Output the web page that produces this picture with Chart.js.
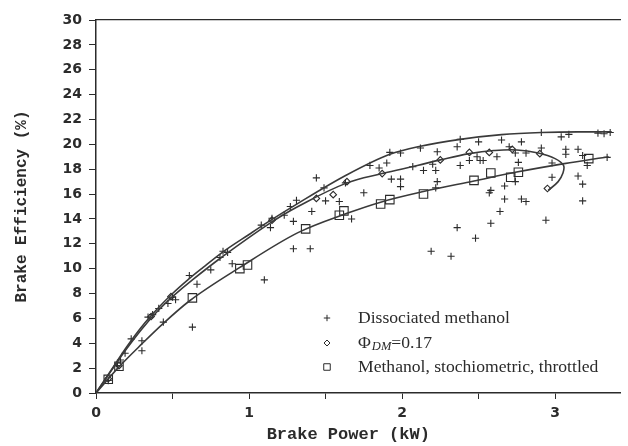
<!DOCTYPE html>
<html>
<head>
<meta charset="utf-8">
<script src="https://cdn.jsdelivr.net/npm/chart.js@4.4.1/dist/chart.umd.min.js"></script>
<style>
  html, body { margin: 0; padding: 0; background: #fff; }
  #wrap { width: 628px; height: 446px; }
</style>
</head>
<body>
<div id="wrap"><canvas id="chart" width="628" height="446"></canvas></div>
<script>
const xTicks = [0, 0.5, 1, 1.5, 2, 2.5, 3];
const yTicks = [0, 2, 4, 6, 8, 10, 12, 14, 16, 18, 20, 22, 24, 26, 28, 30];

const legendLabels = ["Dissociated methanol", "=0.17", "Methanol, stochiometric, throttled"];

// measured points, [power kW, efficiency %]
const dissociated = [
  [0.08, 1.0], [0.14, 2.2], [0.16, 2.65], [0.19, 3.2], [0.23, 4.35], [0.30, 4.2], [0.30, 3.4],
  [0.34, 6.1], [0.37, 6.3], [0.41, 6.8], [0.44, 5.7], [0.47, 7.2], [0.50, 7.7], [0.52, 7.5],
  [0.61, 9.45], [0.63, 5.3], [0.66, 8.75], [0.75, 9.9], [0.81, 10.9], [0.83, 11.4], [0.86, 11.3],
  [0.89, 10.4], [1.08, 13.5], [1.10, 9.1], [1.14, 13.3], [1.15, 14.05], [1.23, 14.3], [1.27, 15.0],
  [1.29, 11.6], [1.29, 13.8], [1.31, 15.5], [1.40, 11.6], [1.41, 14.6], [1.44, 17.3], [1.49, 16.5],
  [1.50, 15.45], [1.59, 15.4], [1.63, 16.9], [1.67, 14.0], [1.75, 16.1], [1.79, 18.3], [1.85, 18.1],
  [1.90, 18.5], [1.92, 19.35], [1.93, 17.2], [1.99, 19.3], [1.99, 17.2], [1.99, 16.6], [2.07, 18.2],
  [2.12, 19.7], [2.14, 17.9], [2.19, 11.4], [2.20, 18.4], [2.22, 17.9], [2.23, 19.4], [2.23, 17.0],
  [2.22, 16.5], [2.32, 11.0], [2.36, 13.3], [2.36, 19.8], [2.38, 20.4], [2.38, 18.3], [2.44, 18.7],
  [2.48, 12.45], [2.49, 19.0], [2.50, 20.2], [2.51, 18.7], [2.53, 18.7], [2.57, 16.1], [2.58, 16.3],
  [2.58, 13.65], [2.62, 19.0], [2.64, 14.6], [2.65, 20.35], [2.67, 16.65], [2.67, 15.6], [2.70, 19.8],
  [2.74, 19.3], [2.74, 17.0], [2.76, 18.55], [2.78, 20.2], [2.78, 15.6], [2.81, 19.3], [2.81, 15.4],
  [2.91, 20.95], [2.91, 19.7], [2.94, 13.9], [2.98, 18.5], [2.98, 17.35], [3.04, 20.6], [3.07, 19.6],
  [3.07, 19.2], [3.09, 20.8], [3.15, 19.6], [3.15, 17.45], [3.18, 19.1], [3.18, 16.8], [3.18, 15.45],
  [3.21, 18.3], [3.28, 20.9], [3.32, 20.85], [3.34, 18.95], [3.36, 20.95]
];
const phiDM = [
  [0.08, 1.15], [0.15, 2.2], [0.36, 6.15], [0.49, 7.75], [1.15, 13.9], [1.44, 15.65], [1.55, 15.95],
  [1.64, 17.0], [1.87, 17.65], [2.25, 18.75], [2.44, 19.35], [2.57, 19.35], [2.72, 19.6],
  [2.90, 19.25], [2.95, 16.45]
];
const methanol = [
  [0.08, 1.1], [0.15, 2.15], [0.63, 7.65], [0.94, 10.0], [0.99, 10.3], [1.37, 13.2], [1.59, 14.3],
  [1.62, 14.65], [1.86, 15.2], [1.92, 15.55], [2.14, 16.0], [2.47, 17.1], [2.58, 17.7],
  [2.71, 17.35], [2.76, 17.75], [3.22, 18.85]
];

// fitted curves
const dissociatedFit = [
  [0, 0], [0.1, 1.85], [0.2, 3.7], [0.3, 5.35], [0.4, 6.75], [0.5, 8.0], [0.6, 9.1], [0.7, 10.1],
  [0.83, 11.35], [1.0, 12.75], [1.13, 13.8], [1.32, 15.25], [1.64, 17.55], [1.92, 19.2],
  [2.12, 19.85], [2.38, 20.4], [2.65, 20.78], [2.91, 20.95], [3.15, 21.0], [3.37, 21.0]
];
const phiDMFit = [
  [0, 0], [0.1, 1.8], [0.2, 3.55], [0.3, 5.15], [0.4, 6.55], [0.5, 7.75], [0.63, 9.1], [0.83, 11.0],
  [1.13, 13.6], [1.32, 15.0], [1.64, 16.9], [1.87, 17.65], [2.1, 18.3], [2.25, 18.75],
  [2.44, 19.25], [2.6, 19.5], [2.75, 19.55], [2.89, 19.3], [3.0, 18.85], [3.055, 18.3],
  [3.05, 17.65], [3.02, 17.0], [2.955, 16.3]
];
const methanolFit = [
  [0, 0], [0.15, 2.1], [0.3, 3.95], [0.44, 5.6], [0.61, 7.4], [0.94, 10.1], [1.32, 12.9],
  [1.64, 14.45], [1.86, 15.35], [2.14, 16.2], [2.47, 17.05], [2.74, 17.75], [3.06, 18.45], [3.35, 19.0]
];

const ink = "#2b2b2b";
const toXY = arr => arr.map(([x, y]) => ({ x, y }));

function fitLine(data, monotone) {
  return {
    data: toXY(data),
    showLine: true,
    borderColor: "#3a3a3a",
    borderWidth: 1.6,
    pointRadius: 0,
    tension: 0.4,
    cubicInterpolationMode: monotone ? "monotone" : "default",
    fill: false,
  };
}

function marks(data, style, radius) {
  return {
    data: toXY(data),
    showLine: false,
    pointStyle: style,
    pointRadius: radius,
    pointBorderWidth: 1.1,
    pointBorderColor: ink,
    pointBackgroundColor: "rgba(255,255,255,0)",
  };
}

const insideLegend = {
  id: "insideLegend",
  afterDatasetsDraw(chart) {
    const { ctx, chartArea } = chart;
    const mx = chartArea.left + 231;
    const tx = chartArea.left + 262;
    const rows = [chartArea.bottom - 75, chartArea.bottom - 50, chartArea.bottom - 26];
    const styles = [["cross", 3.2], ["rectRot", 3.0], ["rect", 4.6]];

    ctx.save();
    ctx.strokeStyle = ink;
    ctx.fillStyle = "rgba(255,255,255,0)";
    ctx.lineWidth = 1;
    styles.forEach(([s, r], i) => {
      Chart.helpers.drawPoint(ctx, { pointStyle: s, radius: r, rotation: 0, borderWidth: 1 }, mx, rows[i]);
    });

    ctx.fillStyle = ink;
    ctx.textBaseline = "middle";
    ctx.textAlign = "left";
    ctx.font = "17.6px 'Liberation Serif'";
    ctx.fillText(legendLabels[0], tx, rows[0]);
    ctx.fillText(legendLabels[2], tx, rows[2]);

    // Φ with italic subscript DM
    let x = tx;
    ctx.fillText("\u03A6", x, rows[1]);
    x += ctx.measureText("\u03A6").width + 1;
    ctx.font = "italic 12.5px 'Liberation Serif'";
    ctx.fillText("DM", x, rows[1] + 4);
    x += ctx.measureText("DM").width;
    ctx.font = "17.6px 'Liberation Serif'";
    ctx.fillText(legendLabels[1], x, rows[1]);
    ctx.restore();
  }
};

const tickFont = { family: "'DejaVu Sans'", size: 14, weight: "bold" };
const titleFont = { family: "'Liberation Mono'", size: 16, weight: "bold" };

new Chart(document.getElementById("chart"), {
  type: "scatter",
  data: {
    datasets: [
      fitLine(dissociatedFit, true),
      fitLine(phiDMFit, false),
      fitLine(methanolFit, true),
      marks(dissociated, "cross", 3.6),
      marks(phiDM, "rectRot", 3.3),
      marks(methanol, "rect", 6),
    ],
  },
  options: {
    responsive: false,
    animation: false,
    layout: { padding: { top: 20, right: 0, bottom: 0, left: 0 } },
    plugins: { legend: { display: false }, tooltip: { enabled: false } },
    scales: {
      x: {
        type: "linear",
        min: 0,
        max: 3.43,
        afterBuildTicks: s => { s.ticks = xTicks.map(v => ({ value: v })); },
        afterFit: s => { s.height = 53; },
        ticks: {
          autoSkip: false,
          maxRotation: 0,
          padding: 6,
          color: ink,
          font: tickFont,
          callback: v => Number.isInteger(v) ? String(v) : "",
        },
        grid: { drawOnChartArea: false, drawTicks: true, tickLength: 6, color: ink, lineWidth: 1 },
        border: { display: true, color: ink, width: 1.5 },
        title: {
          display: true,
          text: "Brake Power (kW)  ",
          color: ink,
          font: { ...titleFont, size: 17 },
          padding: { top: 0, bottom: 1 },
        },
      },
      x2: {
        type: "linear",
        position: "top",
        min: 0,
        max: 3.43,
        afterFit: s => { s.height = 0; },
        ticks: { display: false },
        grid: { display: false },
        border: { display: true, color: ink, width: 1.3 },
      },
      y: {
        type: "linear",
        min: 0,
        max: 30,
        afterBuildTicks: s => { s.ticks = yTicks.map(v => ({ value: v })); },
        afterFit: s => { s.width = 96; },
        ticks: { autoSkip: false, padding: 7, color: ink, font: tickFont },
        grid: { drawOnChartArea: false, drawTicks: true, tickLength: 7, color: ink, lineWidth: 1 },
        border: { display: true, color: ink, width: 1.5 },
        title: {
          display: true,
          text: "Brake Efficiency (%)",
          color: ink,
          font: titleFont,
          padding: { top: 12, bottom: 0 },
        },
      },
    },
  },
  plugins: [insideLegend],
});
</script>
</body>
</html>
